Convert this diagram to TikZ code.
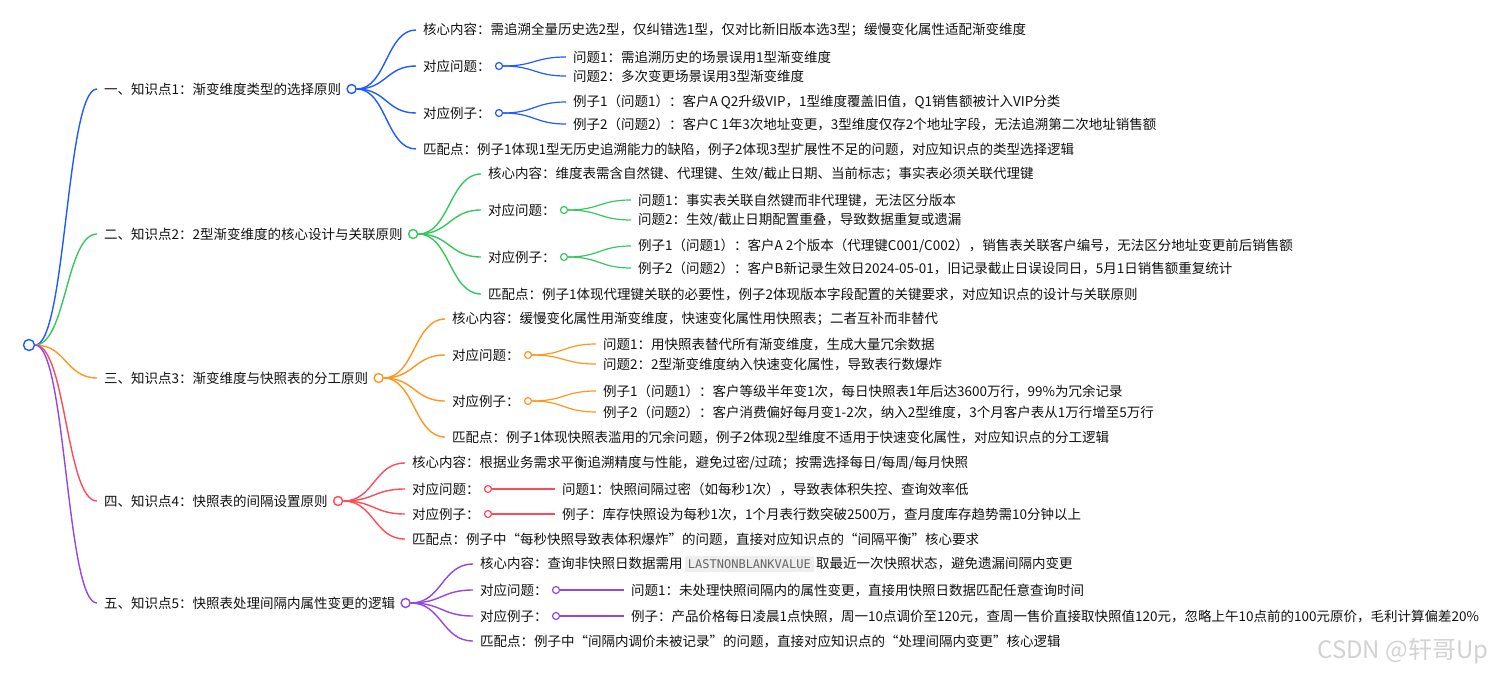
\documentclass[tikz,border=0pt]{standalone}
\usepackage{fontspec}
\setmainfont{Noto Sans CJK SC}
\newfontfamily\codefont{DejaVu Sans Mono}
\usepackage{tikz}
\usetikzlibrary{positioning, calc}
\definecolor{mmblue}{HTML}{1F5BFF}
\definecolor{mmgreen}{HTML}{36C75E}
\definecolor{mmorange}{HTML}{FF961E}
\definecolor{mmred}{HTML}{FF4B59}
\definecolor{mmpurple}{HTML}{9347E6}
\definecolor{txt}{HTML}{111111}
\definecolor{codebg}{HTML}{EEEEEE}
\definecolor{codetx}{HTML}{666666}
\newcommand{\mmfont}{\fontsize{13.5}{16}\selectfont}
\newcommand{\codebox}[1]{{\setlength{\fboxsep}{3pt}\colorbox{codebg}{\color{codetx}\codefont\fontsize{12}{14}\selectfont #1}}}

\tikzset{
  mm/.style={to path={let \p1=(\tikztostart), \p2=(\tikztotarget) in
    .. controls ({0.5*\x1+0.5*\x2},\y1) and ({0.5*\x1+0.5*\x2},\y2) .. (\tikztotarget)}},
  item/.style={anchor=west, inner xsep=7pt, inner ysep=1pt, font=\mmfont, text=txt},
  hub/.style={circle, draw, fill=white, line width=1.4pt, minimum size=9pt, inner sep=0pt},
  dot/.style={circle, draw, fill=white, line width=1.2pt, minimum size=7pt, inner sep=0pt},
  link/.style={line width=1.4pt},
  twig/.style={line width=1.2pt}
}

\begin{document}
\begin{tikzpicture}[x=1pt, y=-1pt]
\useasboundingbox (0,0) rectangle (1498,678);
\node[hub, draw=mmblue, minimum size=11pt] (root) at (29,345) {};

\node[item] (n1) at (97,89) {一、知识点1：渐变维度类型的选择原则};
\node[hub, draw=mmblue, right=-2pt of n1] (n1c) {};
\node[item] (n1k) at (416,30) {核心内容：需追溯全量历史选2型，仅纠错选1型，仅对比新旧版本选3型；缓慢变化属性适配渐变维度};
\node[item] (n1q) at (416,66) {对应问题：};
\node[dot, draw=mmblue, right=-3pt of n1q] (n1qc) {};
\node[item] (n1q1) at (566,57) {问题1：需追溯历史的场景误用1型渐变维度};
\node[item] (n1q2) at (566,76) {问题2：多次变更场景误用3型渐变维度};
\node[item] (n1e) at (416,113) {对应例子：};
\node[dot, draw=mmblue, right=-3pt of n1e] (n1ec) {};
\node[item] (n1e1) at (566,102) {例子1（问题1）：客户A Q2升级VIP，1型维度覆盖旧值，Q1销售额被计入VIP分类};
\node[item] (n1e2) at (566,124) {例子2（问题2）：客户C 1年3次地址变更，3型维度仅存2个地址字段，无法追溯第二次地址销售额};
\node[item] (n1m) at (416,149) {匹配点：例子1体现1型无历史追溯能力的缺陷，例子2体现3型扩展性不足的问题，对应知识点的类型选择逻辑};

\node[item] (n2) at (97,234) {二、知识点2：2型渐变维度的核心设计与关联原则};
\node[hub, draw=mmgreen, right=-2pt of n2] (n2c) {};
\node[item] (n2k) at (481,174) {核心内容：维度表需含自然键、代理键、生效/截止日期、当前标志；事实表必须关联代理键};
\node[item] (n2q) at (481,210) {对应问题：};
\node[dot, draw=mmgreen, right=-3pt of n2q] (n2qc) {};
\node[item] (n2q1) at (631,200) {问题1：事实表关联自然键而非代理键，无法区分版本};
\node[item] (n2q2) at (631,220) {问题2：生效/截止日期配置重叠，导致数据重复或遗漏};
\node[item] (n2e) at (481,257) {对应例子：};
\node[dot, draw=mmgreen, right=-3pt of n2e] (n2ec) {};
\node[item] (n2e1) at (631,246) {例子1（问题1）：客户A 2个版本（代理键C001/C002），销售表关联客户编号，无法区分地址变更前后销售额};
\node[item] (n2e2) at (631,268) {例子2（问题2）：客户B新记录生效日2024-05-01，旧记录截止日误设同日，5月1日销售额重复统计};
\node[item] (n2m) at (481,294) {匹配点：例子1体现代理键关联的必要性，例子2体现版本字段配置的关键要求，对应知识点的设计与关联原则};

\node[item] (n3) at (97,378) {三、知识点3：渐变维度与快照表的分工原则};
\node[hub, draw=mmorange, right=-2pt of n3] (n3c) {};
\node[item] (n3k) at (445,319) {核心内容：缓慢变化属性用渐变维度，快速变化属性用快照表；二者互补而非替代};
\node[item] (n3q) at (445,355) {对应问题：};
\node[dot, draw=mmorange, right=-3pt of n3q] (n3qc) {};
\node[item] (n3q1) at (596,344) {问题1：用快照表替代所有渐变维度，生成大量冗余数据};
\node[item] (n3q2) at (596,364) {问题2：2型渐变维度纳入快速变化属性，导致表行数爆炸};
\node[item] (n3e) at (445,401) {对应例子：};
\node[dot, draw=mmorange, right=-3pt of n3e] (n3ec) {};
\node[item] (n3e1) at (596,391) {例子1（问题1）：客户等级半年变1次，每日快照表1年后达3600万行，99\%为冗余记录};
\node[item] (n3e2) at (596,412) {例子2（问题2）：客户消费偏好每月变1-2次，纳入2型维度，3个月客户表从1万行增至5万行};
\node[item] (n3m) at (445,437) {匹配点：例子1体现快照表滥用的冗余问题，例子2体现2型维度不适用于快速变化属性，对应知识点的分工逻辑};

\node[item] (n4) at (97,501) {四、知识点4：快照表的间隔设置原则};
\node[hub, draw=mmred, right=-2pt of n4] (n4c) {};
\node[item] (n4k) at (405,463) {核心内容：根据业务需求平衡追溯精度与性能，避免过密/过疏；按需选择每日/每周/每月快照};
\node[item] (n4q) at (405,489) {对应问题：};
\node[dot, draw=mmred, right=-3pt of n4q] (n4qc) {};
\node[item] (n4q1) at (555,489) {问题1：快照间隔过密（如每秒1次），导致表体积失控、查询效率低};
\node[item] (n4e) at (405,514) {对应例子：};
\node[dot, draw=mmred, right=-3pt of n4e] (n4ec) {};
\node[item] (n4e1) at (555,514) {例子：库存快照设为每秒1次，1个月表行数突破2500万，查月度库存趋势需10分钟以上};
\node[item] (n4m) at (405,539) {匹配点：例子中“每秒快照导致表体积爆炸”的问题，直接对应知识点的“间隔平衡”核心要求};

\node[item] (n5) at (97,603) {五、知识点5：快照表处理间隔内属性变更的逻辑};
\node[hub, draw=mmpurple, right=-2pt of n5] (n5c) {};
\node[item] (n5k) at (473,564) {核心内容：查询非快照日数据需用\,\codebox{LASTNONBLANKVALUE}\,取最近一次快照状态，避免遗漏间隔内变更};
\node[item] (n5q) at (473,590) {对应问题：};
\node[dot, draw=mmpurple, right=-3pt of n5q] (n5qc) {};
\node[item] (n5q1) at (624,590) {问题1：未处理快照间隔内的属性变更，直接用快照日数据匹配任意查询时间};
\node[item] (n5e) at (473,616) {对应例子：};
\node[dot, draw=mmpurple, right=-3pt of n5e] (n5ec) {};
\node[item] (n5e1) at (624,616) {例子：产品价格每日凌晨1点快照，周一10点调价至120元，查周一售价直接取快照值120元，忽略上午10点前的100元原价，毛利计算偏差20\%};
\node[item] (n5m) at (473,641) {匹配点：例子中“间隔内调价未被记录”的问题，直接对应知识点的“处理间隔内变更”核心逻辑};

\node[anchor=east, text=gray!35, font=\fontsize{24}{28}\selectfont] (wm) at (1492,651) {CSDN @轩哥Up};

\draw[link, mmblue] (root.east) to[mm] (n1.west);
\draw[link, mmgreen] (root.east) to[mm] (n2.west);
\draw[link, mmorange] (root.east) to[mm] (n3.west);
\draw[link, mmred] (root.east) to[mm] (n4.west);
\draw[link, mmpurple] (root.east) to[mm] (n5.west);

\foreach \s in {k,q,e,m} {
  \draw[link, mmblue] (n1c.east) to[mm] (n1\s.west);
  \draw[link, mmgreen] (n2c.east) to[mm] (n2\s.west);
  \draw[link, mmorange] (n3c.east) to[mm] (n3\s.west);
  \draw[link, mmred] (n4c.east) to[mm] (n4\s.west);
  \draw[link, mmpurple] (n5c.east) to[mm] (n5\s.west);
}
\foreach \s in {q,e} {
  \draw[twig, mmblue] (n1\s c.east) to[mm] (n1\s 1.west);
  \draw[twig, mmblue] (n1\s c.east) to[mm] (n1\s 2.west);
  \draw[twig, mmgreen] (n2\s c.east) to[mm] (n2\s 1.west);
  \draw[twig, mmgreen] (n2\s c.east) to[mm] (n2\s 2.west);
  \draw[twig, mmorange] (n3\s c.east) to[mm] (n3\s 1.west);
  \draw[twig, mmorange] (n3\s c.east) to[mm] (n3\s 2.west);
  \draw[twig, mmred] (n4\s c.east) to[mm] (n4\s 1.west);
  \draw[twig, mmpurple] (n5\s c.east) to[mm] (n5\s 1.west);
}
\end{tikzpicture}
\end{document}
